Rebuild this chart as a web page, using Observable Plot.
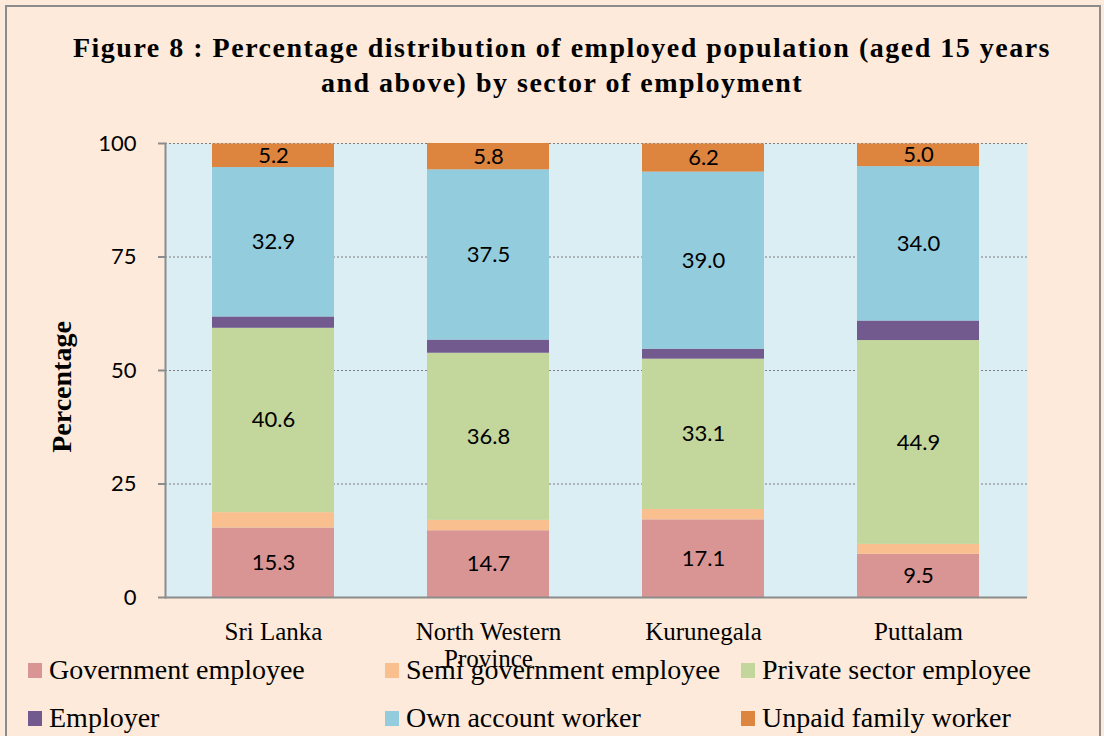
<!DOCTYPE html>
<html>
<head>
<meta charset="utf-8">
<script src="https://cdn.jsdelivr.net/npm/d3@7"></script>
<script src="https://cdn.jsdelivr.net/npm/@observablehq/plot@0.6"></script>
<style>
  html, body { margin: 0; padding: 0; width: 1104px; height: 736px; overflow: hidden; background: #FDEADA; }
  #border { position: absolute; left: 5px; top: 5px; width: 1096px; height: 800px; box-sizing: border-box; border: 2px solid #8c8c8c; }
  #title { position: absolute; left: 20px; top: 30px; width: 1084px; text-align: center;
           font-family: "Liberation Serif", serif; font-weight: bold; font-size: 28px; letter-spacing: 1.5px; line-height: 35px; color: #000; }
  #chart { position: absolute; left: 0; top: 100px; }
  #chart svg { overflow: visible; }
  #ylabel { position: absolute; left: 62px; top: 387px; transform: translate(-50%, -50%) rotate(-90deg);
            font-family: "Liberation Serif", serif; font-weight: bold; font-size: 28px; white-space: nowrap; color: #000; }
  #legend { position: absolute; left: 28px; top: 646px; display: grid; grid-template-columns: 357px 356px 356px;
            font-family: "Liberation Serif", serif; font-size: 28px; line-height: 48px; color: #000; }
  .item { display: flex; align-items: center; white-space: nowrap; }
  .sw { width: 14px; height: 15px; margin-right: 7px; flex: none; }
</style>
</head>
<body>
<div id="border"></div>
<div id="title"></div>
<div id="chart"></div>
<div id="ylabel"></div>
<div id="legend"></div>
<script>
// ---- data ----
const titleLines = ["Figure 8 : Percentage distribution of employed population (aged 15 years", "and above) by sector of employment"];
const yLabel = "Percentage";
const regions = ["Sri Lanka", "North Western Province", "Kurunegala", "Puttalam"];
const regionTickLabels = ["Sri Lanka", "North Western\nProvince", "Kurunegala", "Puttalam"];
const sectors = ["Government employee", "Semi government employee", "Private sector employee", "Employer", "Own account worker", "Unpaid family worker"];
const government = [15.3, 14.7, 17.1, 9.5];
const semiGovernment = [3.4, 2.3, 2.3, 2.2];
const privateSector = [40.6, 36.8, 33.1, 44.9];
const employer = [2.5, 2.9, 2.2, 4.3];
const ownAccount = [32.9, 37.5, 39.0, 34.0];
const unpaidFamily = [5.2, 5.8, 6.2, 5.0];
const labelledSectors = ["Government employee", "Private sector employee", "Own account worker", "Unpaid family worker"];
const yTicks = [0, 25, 50, 75, 100];
const colors = ["#D99594", "#FABF8F", "#C3D69B", "#735A8E", "#93CDDD", "#DD843F"];

// ---- build table ----
const seriesValues = [government, semiGovernment, privateSector, employer, ownAccount, unpaidFamily];
const rows = [];
sectors.forEach((s, i) => regions.forEach((r, j) => rows.push({sector: s, region: r, value: seriesValues[i][j]})));
const labelled = new Set(labelledSectors);

document.getElementById("title").innerHTML = titleLines.join("<br>");
document.getElementById("ylabel").textContent = yLabel;

const chart = Plot.plot({
  width: 1104,
  height: 577,
  marginLeft: 165,
  marginRight: 77,
  marginTop: 43,
  marginBottom: 80,
  style: {background: "transparent", fontFamily: "Lato, sans-serif", fontSize: "22px", color: "#000", overflow: "visible"},
  x: {domain: regions, paddingInner: 0.432, paddingOuter: 0.216, label: null},
  y: {domain: [0, 100], label: null},
  color: {domain: sectors, range: colors},
  marks: [
    Plot.frame({fill: "#DBEEF4", stroke: "none"}),
    Plot.gridY(yTicks.filter(d => d > 0), {stroke: "#7f7f7f", strokeOpacity: 1, strokeDasharray: "2,2", strokeWidth: 1.2}),
    Plot.barY(rows, {x: "region", y: "value", fill: "sector"}),
    Plot.text(rows, Plot.stackY({x: "region", y: "value", text: d => labelled.has(d.sector) ? d.value.toFixed(1) : "", fill: "#000", fontSize: 22, fontFamily: "Lato, sans-serif"})),
    Plot.frame({anchor: "left", stroke: "#8c8c8c", strokeWidth: 2}),
    Plot.ruleY([0], {stroke: "#8c8c8c", strokeWidth: 2}),
    Plot.axisY({ticks: yTicks, tickSize: 7, tickPadding: 22, stroke: "#8c8c8c", strokeWidth: 2, fill: "#000", fontSize: 22, fontFamily: "Lato, sans-serif", label: null}),
    Plot.axisX({tickSize: 0, tickPadding: 23, tickFormat: (d) => regionTickLabels[regions.indexOf(d)], fontSize: 25, fontFamily: "Liberation Serif, serif", lineHeight: 1.08, fill: "#000", label: null})
  ]
});
document.getElementById("chart").appendChild(chart);

const legend = document.getElementById("legend");
sectors.forEach((s, i) => {
  const item = document.createElement("div");
  item.className = "item";
  const sw = document.createElement("span");
  sw.className = "sw";
  sw.style.background = colors[i];
  const t = document.createElement("span");
  t.textContent = s;
  item.appendChild(sw);
  item.appendChild(t);
  legend.appendChild(item);
});
</script>
</body>
</html>
